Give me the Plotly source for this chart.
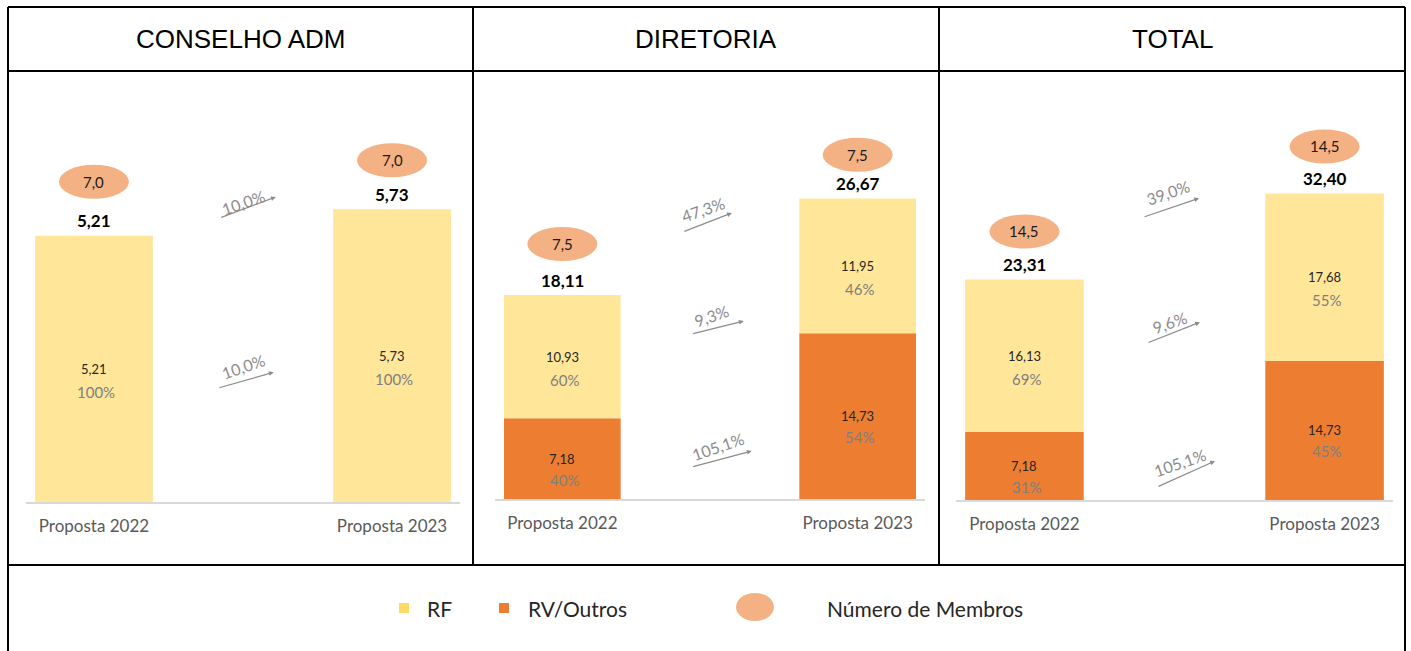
import plotly.graph_objects as go

# ---------------- data ----------------
panels = ["CONSELHO ADM", "DIRETORIA", "TOTAL"]
categories = ["Proposta 2022", "Proposta 2023"]

rf_values = [[5.21, 5.73], [10.93, 11.95], [16.13, 17.68]]
rv_values = [[None, None], [7.18, 14.73], [7.18, 14.73]]
totals = [[5.21, 5.73], [18.11, 26.67], [23.31, 32.40]]
members = [["7,0", "7,0"], ["7,5", "7,5"], ["14,5", "14,5"]]
rf_pct = [["100%", "100%"], ["60%", "46%"], ["69%", "55%"]]
rv_pct = [[None, None], ["40%", "54%"], ["31%", "45%"]]
growth_total = ["10,0%", "47,3%", "39,0%"]
growth_rf = ["10,0%", "9,3%", "9,6%"]
growth_rv = [None, "105,1%", "105,1%"]

# ---------------- style ----------------
W, H = 1411, 651
RF_COLOR = "#FFE699"
RV_COLOR = "#ED7D31"
ELL_COLOR = "#F4B183"
FONT = "Lato"
HFONT = "Liberation Sans"

def px(x):
    return x / W

def py(y):
    return 1 - y / H

# panel layout (pixels): x-domain, baseline, y-axis max
panel_xdom = [(26, 460), (495, 925), (956, 1393)]
panel_base = [502, 499, 500]
panel_top = 72
panel_ymax = [8.415, 37.92, 45.24]
xrange_ = [-0.228, 1.228]
bar_w = 0.395
ell_off = [[54, 49], [51, 44], [48, 47]]

# arrow placement per panel (head x, head y in data units, tail offset px, text pos)
arrow_pos = [
    {"total": (0.61, 5.97, -56, 21, 0.50, 5.87), "rf": (0.603, 2.54, -56, 16, 0.50, 2.66), "rv": None},
    {"total": (0.574, 25.4, -49, 19, 0.475, 25.7), "rf": (0.614, 15.8, -52, 13, 0.506, 16.3),
     "rv": (0.641, 4.26, -60, 16, 0.526, 4.7)},
    {"total": (0.582, 31.9, -56, 19, 0.478, 32.5), "rf": (0.585, 18.8, -53, 21, 0.482, 18.8),
     "rv": (0.635, 4.12, -58, 26, 0.518, 4.0)},
]

def fmt(v):
    return f"{v:.2f}".replace(".", ",")

fig = go.Figure()
annotations = []
shapes = []
xpos = [0, 1]

for i, name in enumerate(panels):
    sfx = "" if i == 0 else str(i + 1)
    xa, ya = "x" + sfx, "y" + sfx
    rv = rv_values[i]
    rf = rf_values[i]
    base = [v if v is not None else 0 for v in rv]
    if any(v is not None for v in rv):
        fig.add_trace(go.Bar(x=xpos, y=rv, marker=dict(color=RV_COLOR, line=dict(width=0)), width=bar_w,
                             xaxis=xa, yaxis=ya, showlegend=False, hoverinfo="skip"))
    fig.add_trace(go.Bar(x=xpos, y=rf, base=base, marker=dict(color=RF_COLOR, line=dict(width=0)),
                         width=bar_w, xaxis=xa, yaxis=ya, showlegend=False, hoverinfo="skip"))

    for j in range(2):
        tot = totals[i][j]
        off = ell_off[i][j]
        # total label
        annotations.append(dict(x=xpos[j], y=tot, xref=xa, yref=ya, text=f"<b>{fmt(tot)}</b>",
                                showarrow=False, yshift=15, font=dict(family=FONT, size=17, color="#000000")))
        # members ellipse
        shapes.append(dict(type="circle", xref=xa, yref=ya, xsizemode="pixel", ysizemode="pixel",
                           xanchor=xpos[j], yanchor=tot, x0=-35, x1=35, y0=off - 17, y1=off + 17,
                           fillcolor=ELL_COLOR, line=dict(width=0), layer="above"))
        annotations.append(dict(x=xpos[j], y=tot, xref=xa, yref=ya, text=members[i][j],
                                showarrow=False, yshift=off, font=dict(family=FONT, size=15, color="#1a1a1a")))
        # RF segment labels
        mid_rf = base[j] + rf[j] / 2
        annotations.append(dict(x=xpos[j], y=mid_rf, xref=xa, yref=ya, text=fmt(rf[j]),
                                showarrow=False, font=dict(family=FONT, size=13, color="#262626")))
        annotations.append(dict(x=xpos[j], y=mid_rf, xref=xa, yref=ya, text=rf_pct[i][j],
                                showarrow=False, yshift=-23, xshift=2,
                                font=dict(family=FONT, size=15, color="#7F7F7F")))
        # RV segment labels
        if rv[j] is not None:
            mid_rv = rv[j] / 2
            annotations.append(dict(x=xpos[j], y=mid_rv, xref=xa, yref=ya, text=fmt(rv[j]),
                                    showarrow=False, font=dict(family=FONT, size=13, color="#262626")))
            annotations.append(dict(x=xpos[j], y=mid_rv, xref=xa, yref=ya, text=rv_pct[i][j],
                                    showarrow=False, yshift=-21, xshift=2,
                                    font=dict(family=FONT, size=15, color="#7F7F7F")))

    # growth arrows
    for key, label in (("total", growth_total[i]), ("rf", growth_rf[i]), ("rv", growth_rv[i])):
        pos = arrow_pos[i][key]
        if pos is None or label is None:
            continue
        hx, hy, ax, ay, tx, ty = pos
        annotations.append(dict(x=hx, y=hy, xref=xa, yref=ya, text="", showarrow=True,
                                ax=ax, ay=ay, arrowhead=2, arrowsize=0.8, arrowwidth=1.2,
                                arrowcolor="#8C8C8C"))
        annotations.append(dict(x=tx, y=ty, xref=xa, yref=ya, text=label, showarrow=False,
                                textangle=-19, font=dict(family=FONT, size=16, color="#8C8C8C")))

    # axes
    x0, x1 = panel_xdom[i]
    fig.update_layout(**{
        "xaxis" + sfx: dict(domain=[px(x0), px(x1)], range=xrange_, tickvals=xpos, ticktext=categories,
                            showline=True, linecolor="#D9D9D9", linewidth=1.5, showgrid=False,
                            zeroline=False, ticks="", ticklabelstandoff=8, fixedrange=True,
                            tickfont=dict(family=FONT, size=17, color="#595959"), anchor=ya),
        "yaxis" + sfx: dict(domain=[py(panel_base[i]), py(panel_top)], range=[0, panel_ymax[i]],
                            visible=False, fixedrange=True, anchor=xa),
    })

    # header
    annotations.append(dict(x=px([240.5, 706, 1172][i]), y=py(39), xref="paper", yref="paper",
                            text=name, showarrow=False, xanchor="center", yanchor="middle",
                            font=dict(family=HFONT, size=26, color="#000000")))

# table borders
border = dict(color="#000000", width=2)
for (xa_, ya_, xb_, yb_) in [(8, 7, 1405, 7), (8, 7, 8, 660), (1405, 7, 1405, 660),
                              (8, 71, 1405, 71), (8, 565, 1405, 565),
                              (473, 7, 473, 565), (939, 7, 939, 565)]:
    shapes.append(dict(type="line", xref="paper", yref="paper", x0=px(xa_), y0=py(ya_),
                       x1=px(xb_), y1=py(yb_), line=border, layer="above"))

# custom legend
leg_y = py(608)
shapes.append(dict(type="rect", xref="paper", yref="paper", x0=px(399), x1=px(409),
                   y0=py(613), y1=py(603), fillcolor="#FFD966", line=dict(width=0)))
shapes.append(dict(type="rect", xref="paper", yref="paper", x0=px(499), x1=px(509),
                   y0=py(613), y1=py(603), fillcolor=RV_COLOR, line=dict(width=0)))
shapes.append(dict(type="circle", xref="paper", yref="paper", x0=px(736), x1=px(774),
                   y0=py(621), y1=py(593), fillcolor=ELL_COLOR, line=dict(width=0)))
for xl, txt in ((425, "RF"), (526, "RV/Outros"), (825, "Número de Membros")):
    annotations.append(dict(x=px(xl), y=leg_y, xref="paper", yref="paper", text=txt,
                            xanchor="left", yanchor="middle", showarrow=False,
                            font=dict(family=FONT, size=21, color="#262626")))

fig.update_layout(
    width=W, height=H, margin=dict(l=0, r=0, t=0, b=0),
    paper_bgcolor="white", plot_bgcolor="white",
    barmode="overlay", showlegend=False,
    shapes=shapes, annotations=annotations,
)

fig.write_html("out.html", config={"displayModeBar": False},
               post_script="document.body.style.margin='0';document.body.style.overflow='hidden';")
